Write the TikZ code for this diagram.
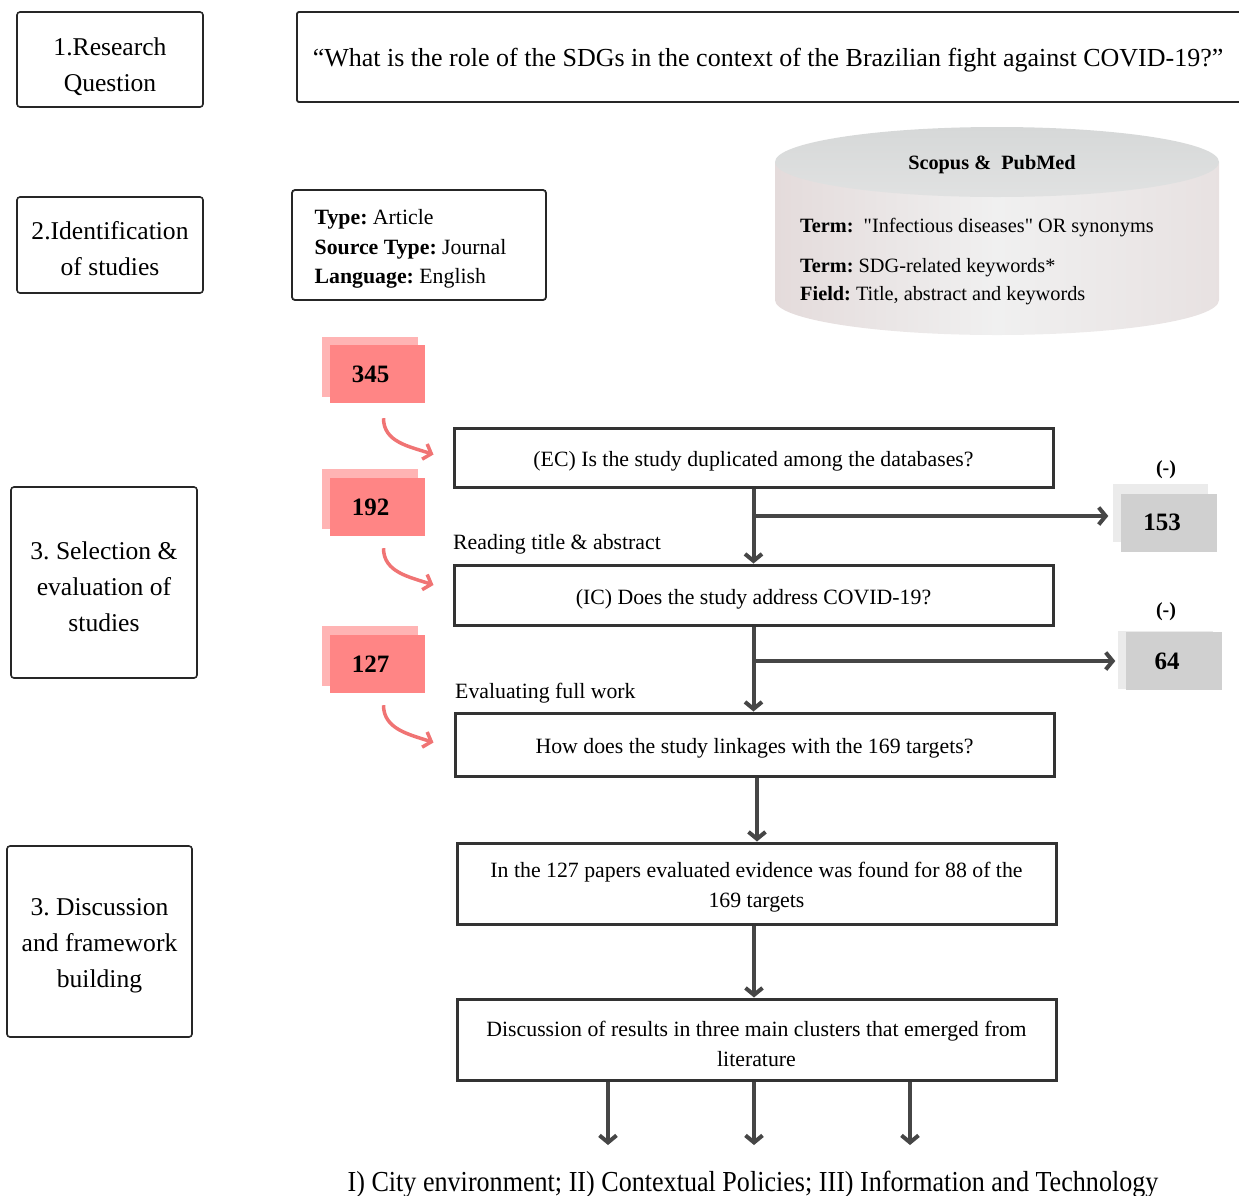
\documentclass[tikz,border=0pt]{standalone}
\usepackage{fontspec}
\setmainfont{Liberation Serif}
\newfontfamily\narrowfont[FakeStretch=0.9]{Liberation Serif}
\usetikzlibrary{arrows.meta, positioning}
\definecolor{redfront}{RGB}{255,133,133}
\definecolor{redback}{RGB}{255,180,180}
\definecolor{redline}{RGB}{240,116,116}
\definecolor{grayfront}{RGB}{208,208,208}
\definecolor{grayback}{RGB}{235,235,235}
\definecolor{linegray}{RGB}{70,70,70}
\definecolor{cylside}{RGB}{228,219,219}
\definecolor{cylmid}{RGB}{240,240,240}
\definecolor{cyltop}{RGB}{214,216,216}
\frenchspacing

\begin{document}
\begin{tikzpicture}[x=1pt, y=-1pt,
  stage/.style={draw=black!85, line width=1.6pt, rounded corners=3pt, minimum width=186pt},
  stagefont/.style={align=center, font=\fontsize{25.6}{36}\selectfont},
  stagetext/.style={label={[stagefont, yshift=-4pt]center:#1}},
  flow/.style={draw=black!80, line width=3pt, minimum width=599pt},
  flowtext/.style={label={[align=center, font=\fontsize{21.8}{30}\selectfont, yshift=-4pt]center:#1}},
  side/.style={font=\fontsize{21.8}{24}\selectfont, inner sep=0pt, anchor=west},
  cyltext/.style={font=\fontsize{20.3}{24}\selectfont, inner sep=0pt, anchor=west},
  rback/.style={fill=redback, minimum width=96pt, minimum height=60pt},
  rfront/.style={fill=redfront, minimum width=95pt, minimum height=58pt},
  gback/.style={fill=grayback, minimum width=95pt, minimum height=58pt},
  gfront/.style={fill=grayfront, minimum width=96pt, minimum height=58pt},
  num/.style={label={[font=\bfseries\fontsize{25}{25}\selectfont, xshift=-7pt]center:#1}},
  minus/.style={font=\bfseries\fontsize{20}{24}\selectfont},
  arr/.style={draw=linegray, line width=4pt, -{Straight Barb[length=7pt,width=17pt]}},
  redarr/.style={draw=redline, line width=3.5pt, -{Straight Barb[length=7pt,width=16pt]}}]
\clip (0,0) rectangle (1239,1195);

% stages
\node[stage, minimum height=95pt, label={[stagefont, yshift=-7pt]center:{1.Research\\Question}}] (s1) at (110,59.5) {};
\node[stage, minimum height=96pt, stagetext={2.Identification\\of studies}] (s2) at (110,245) {};
\node[stage, minimum height=191pt, stagetext={3. Selection \&\\evaluation of\\studies}] (s3) at (104,582.5) {};
\node[stage, minimum height=191pt, minimum width=185pt, stagetext={3. Discussion\\and framework\\building}] (s4) at (99.5,941.5) {};

\node[draw=black!85, line width=1.8pt, rounded corners=2pt, minimum width=946pt, minimum height=90pt,
  label={[font=\fontsize{26}{30}\selectfont, yshift=-3pt, xshift=-2pt]center:{``What is the role of the SDGs in the context of the Brazilian fight against COVID-19?''}}] (rq) at (770,57) {};

\node[draw=black!85, line width=1.8pt, rounded corners=3pt, minimum width=254pt, minimum height=110pt,
  label={[anchor=west, xshift=20pt, yshift=-4pt, align=left, font=\fontsize{21.8}{29.5}\selectfont]west:{\textbf{Type:} Article\\\textbf{Source Type:} Journal\\\textbf{Language:} English}}] (crit) at (419,245) {};

% database
\shade[left color=cylside, right color=cylside!70!cylmid, middle color=cylmid]
  (775,162) -- (775,300) arc[start angle=180, end angle=0, x radius=222, y radius=35] -- (1219,162) -- cycle;
\shade[top color=cyltop, bottom color=cyltop!60!cylmid] (997,162) ellipse[x radius=222, y radius=35];
\node[font=\bfseries\fontsize{20.3}{24}\selectfont] (db) at (992,165) {Scopus \&\ \ PubMed};
\node[cyltext] (t1) at (800,228) {\textbf{Term:}\ \ \textquotedbl Infectious diseases\textquotedbl\ OR synonyms};
\node[cyltext] (t2) at (800,268) {\textbf{Term:} SDG-related keywords*};
\node[cyltext] (t3) at (800,296) {\textbf{Field:} Title, abstract and keywords};

% screening
\node[flow, minimum height=59pt, flowtext={(EC) Is the study duplicated among the databases?}] (ec) at (753.5,457.5) {};
\node[flow, minimum height=60pt, flowtext={(IC) Does the study address COVID-19?}] (ic) at (753.5,595) {};
\node[flow, minimum height=63pt, flowtext={How does the study linkages with the 169 targets?}] (tg) at (754.5,744.5) {};
\node[flow, minimum height=81pt, flowtext={In the 127 papers evaluated evidence was found for 88 of the\\169 targets}] (ev) at (756.5,883.5) {};
\node[flow, minimum height=81pt, flowtext={Discussion of results in three main clusters that emerged from\\literature}] (ds) at (756.5,1039.5) {};

\node[side] (l1) at (453,544) {Reading title \& abstract};
\node[side] (l2) at (455,693) {Evaluating full work};

\node[rback] (n345b) at (370,367) {};
\node[rfront, num=345] (n345) at ([shift={(7.5pt,-7pt)}]n345b) {};
\node[rback] (n192b) at (370,499) {};
\node[rfront, num=192] (n192) at ([shift={(7.5pt,-8pt)}]n192b) {};
\node[rback] (n127b) at (370,656) {};
\node[rfront, num=127] (n127) at ([shift={(7.5pt,-8pt)}]n127b) {};

\node[gback] (n153b) at (1160,513) {};
\node[gfront, num=153] (n153) at ([shift={(9pt,-9.5pt)}]n153b) {};
\node[minus] (m1) at (1166,470) {(-)};
\node[gback] (n64b) at (1165,660) {};
\node[gfront, num=64] (n64) at ([shift={(9pt,-1pt)}]n64b) {};
\node[minus] (m2) at (1166,612) {(-)};

\coordinate (b1) at (754,516);
\coordinate (b2) at (754,661);
\draw[arr] (ec.south) -- (ic.north);
\draw[arr] (b1) -- ([xshift=-4pt]b1 -| n153b.west);
\draw[arr] (ic.south) -- (ic.south |- tg.north);
\draw[arr] (b2) -- ([xshift=-2pt]b2 -| n64b.west);
\draw[arr] ([xshift=2.5pt]tg.south) -- ([xshift=2.5pt]tg.south |- ev.north);
\draw[arr] ([xshift=-2.5pt]ev.south) -- ([xshift=-2.5pt]ev.south |- ds.north);

\coordinate (r1) at ([shift={(6pt,-15pt)}]n345.south);
\coordinate (r2) at ([shift={(6pt,-12pt)}]n192.south);
\coordinate (r3) at ([shift={(6pt,-12pt)}]n127.south);
\draw[redarr] (r1) .. controls +(0,24) and +(-24,-8) .. ([shift={(-19pt,3pt)}]ec.west);
\draw[redarr] (r2) .. controls +(0,24) and +(-24,-8) .. ([shift={(-19pt,10pt)}]ic.west);
\draw[redarr] (r3) .. controls +(0,24) and +(-24,-8) .. ([shift={(-20pt,2pt)}]tg.west);

% clusters
\node[font=\narrowfont\fontsize{29}{32}\selectfont] (res) at (753,1184)
  {I) City environment; II) Contextual Policies; III) Information and Technology};
\coordinate (o1) at (608,1145);
\coordinate (o2) at (754,1145);
\coordinate (o3) at (910,1145);
\foreach \o in {o1,o2,o3}
  \draw[arr] (ds.south -| \o) -- (\o);
\end{tikzpicture}
\end{document}
